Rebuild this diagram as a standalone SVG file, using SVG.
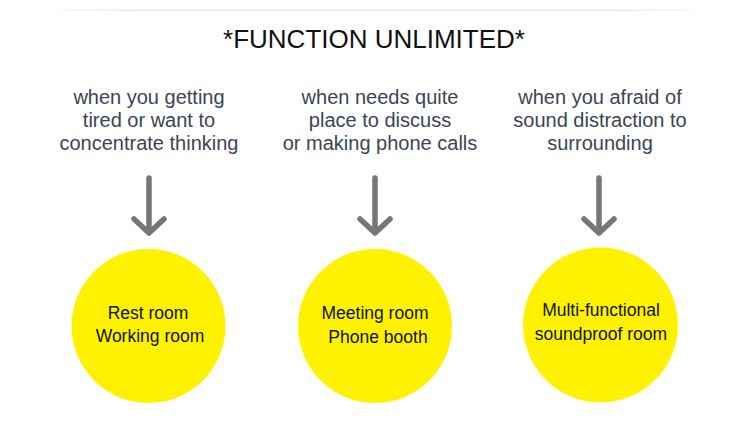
<svg xmlns="http://www.w3.org/2000/svg" width="750" height="447" viewBox="0 0 750 447">
<defs>
<linearGradient id="rule" x1="0" y1="0" x2="1" y2="0">
<stop offset="0" stop-color="#e6e6e6" stop-opacity="0"/>
<stop offset="0.15" stop-color="#e6e6e6"/>
<stop offset="0.85" stop-color="#e6e6e6"/>
<stop offset="1" stop-color="#e6e6e6" stop-opacity="0"/>
</linearGradient>
</defs>
<style>
.title{font-family:"Liberation Sans",Arial,sans-serif;font-size:26px;fill:#111;text-anchor:middle}
.desc{font-family:"Liberation Sans",Arial,sans-serif;font-size:20px;fill:#3a4556;text-anchor:middle}
.lbl{font-family:"Liberation Sans",Arial,sans-serif;font-size:17.5px;fill:#111;text-anchor:middle}
.circ{fill:#fff200}
.arr{fill:none;stroke:#767676;stroke-width:5.5;stroke-linecap:round;stroke-linejoin:round}
</style>
<rect width="750" height="447" fill="#fff"/>
<rect x="40" y="9.5" width="670" height="1.5" fill="url(#rule)"/>
<text class="title" x="374" y="48">*FUNCTION UNLIMITED*</text>

<g id="desc1">
<text class="desc" x="149" y="104">when you getting</text>
<text class="desc" x="149" y="127">tired or want to</text>
<text class="desc" x="149" y="150">concentrate thinking</text>
</g>
<g id="desc2">
<text class="desc" x="380" y="104">when needs quite</text>
<text class="desc" x="380" y="127">place to discuss</text>
<text class="desc" x="380" y="150">or making phone calls</text>
</g>
<g id="desc3">
<text class="desc" x="600" y="104">when you afraid of</text>
<text class="desc" x="600" y="127">sound distraction to</text>
<text class="desc" x="600" y="150">surrounding</text>
</g>

<g id="connectors">
<path class="arr" d="M149 178 V232 M134 219 L149 233 L164 219"/>
<path class="arr" d="M375 178 V232 M360 219 L375 233 L390 219"/>
<path class="arr" d="M599 178 V232 M584 219 L599 233 L614 219"/>
</g>

<g id="node1">
<circle class="circ" cx="148.5" cy="326" r="77"/>
<text class="lbl" x="148" y="319">Rest room</text>
<text class="lbl" x="150" y="342">Working room</text>
</g>
<g id="node2">
<circle class="circ" cx="375" cy="326" r="77"/>
<text class="lbl" x="375" y="319">Meeting room</text>
<text class="lbl" x="378" y="342.5">Phone booth</text>
</g>
<g id="node3">
<circle class="circ" cx="600.5" cy="325" r="77.5"/>
<text class="lbl" x="601" y="316">Multi-functional</text>
<text class="lbl" x="601" y="340">soundproof room</text>
</g>
</svg>
